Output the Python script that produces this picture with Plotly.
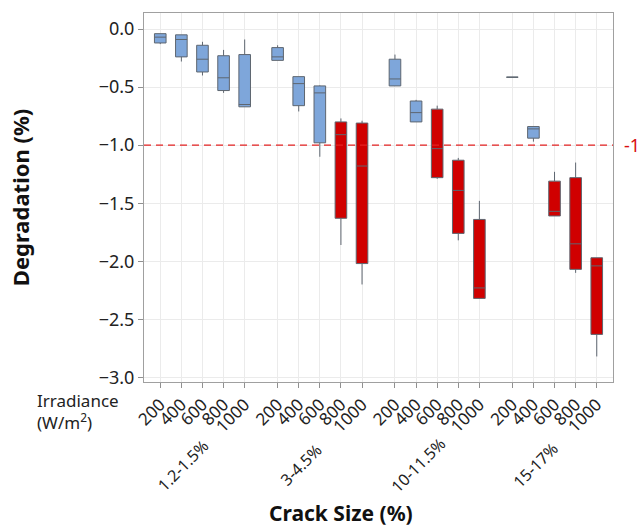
import plotly.graph_objects as go

crack_sizes = ["1.2-1.5%", "3-4.5%", "10-11.5%", "15-17%"]
irradiance = ["200", "400", "600", "800", "1000"]

# one value per box, crack size major, irradiance minor
q3 = [-0.04, -0.05, -0.14, -0.23, -0.22,
      -0.16, -0.41, -0.49, -0.80, -0.81,
      -0.26, -0.62, -0.69, -1.13, -1.64,
      -0.415, -0.84, -1.31, -1.28, -1.97]
median = [-0.07, -0.09, -0.26, -0.42, -0.65,
          -0.24, -0.47, -0.55, -0.91, -1.18,
          -0.43, -0.72, -1.03, -1.39, -2.23,
          -0.415, -0.86, -1.57, -1.85, -2.04]
q1 = [-0.12, -0.24, -0.37, -0.53, -0.67,
      -0.27, -0.66, -0.98, -1.63, -2.02,
      -0.49, -0.80, -1.28, -1.76, -2.32,
      -0.415, -0.94, -1.61, -2.07, -2.63]
upper = [-0.04, -0.05, -0.11, -0.18, -0.09,
         -0.14, -0.41, -0.485, -0.77, -0.79,
         -0.22, -0.61, -0.66, -1.11, -1.48,
         -0.415, -0.84, -1.23, -1.15, -1.97]
lower = [-0.13, -0.28, -0.40, -0.55, -0.67,
         -0.27, -0.71, -1.10, -1.86, -2.20,
         -0.49, -0.80, -1.29, -1.82, -2.32,
         -0.415, -0.97, -1.61, -2.10, -2.82]

THRESHOLD = -1.0
GROUP_STEP = 5.56
FONT = "Noto Sans"

xpos = [g * GROUP_STEP + i for g in range(len(crack_sizes)) for i in range(len(irradiance))]
ticktext = irradiance * len(crack_sizes)

fig = go.Figure()
for name, color, pick in [
    ("ok", "#7EA6DA", lambda v: v >= THRESHOLD),
    ("over", "#D00000", lambda v: v < THRESHOLD),
]:
    idx = [k for k in range(len(xpos)) if pick(q1[k])]
    fig.add_trace(go.Box(
        x=[xpos[k] for k in idx],
        q1=[q1[k] for k in idx],
        median=[median[k] for k in idx],
        q3=[q3[k] for k in idx],
        lowerfence=[lower[k] for k in idx],
        upperfence=[upper[k] for k in idx],
        width=0.55,
        whiskerwidth=0,
        fillcolor=color,
        line=dict(color="#5E6670", width=1),
        boxpoints=False,
        showlegend=False,
        hoverinfo="skip",
    ))

fig.add_hline(y=THRESHOLD, line=dict(color="#E42222", width=1.2, dash="7px,5px"))
fig.add_annotation(x=1.02, xref="paper", y=THRESHOLD, yref="y", text="-1",
                   showarrow=False, xanchor="left", yanchor="middle",
                   font=dict(size=18, color="#D81010", family=FONT))

for g, label in enumerate(crack_sizes):
    fig.add_annotation(x=g * GROUP_STEP + 2 - 0.9, xref="x", y=-0.225, yref="paper",
                       text=label, textangle=-45, showarrow=False,
                       xanchor="center", yanchor="middle",
                       font=dict(size=16, color="#222", family=FONT))

fig.add_annotation(x=-0.232, xref="paper", y=-0.014, yref="paper",
                   text="Irradiance<br>(W/m<sup>2</sup>)", align="left",
                   xanchor="left", yanchor="top", showarrow=False,
                   font=dict(size=17, color="#222", family=FONT))
fig.add_annotation(x=0.42, xref="paper", y=-0.355, yref="paper",
                   text="<b>Crack Size (%)</b>", showarrow=False,
                   xanchor="center", yanchor="middle",
                   font=dict(size=21, color="#111", family=FONT))

axis_common = dict(
    showline=True, linecolor="#A0A0A0", mirror=True,
    showgrid=True, gridcolor="#EBEBEB", gridwidth=1,
    ticks="outside", ticklen=5, tickcolor="#909090",
    zeroline=False,
)
fig.update_xaxes(
    range=[-0.77, 21.45], tickvals=xpos, ticktext=ticktext, tickangle=-45,
    tickfont=dict(size=17, color="#222", family=FONT), **axis_common,
)
fig.update_yaxes(
    range=[-3.04, 0.138], tickvals=[0, -0.5, -1, -1.5, -2, -2.5, -3],
    tickformat=".1f", tickfont=dict(size=18, color="#222", family=FONT),
    title=dict(text="<b>Degradation (%)</b>", standoff=62,
               font=dict(size=22, color="#111", family=FONT)),
    **axis_common,
)
fig.update_layout(
    width=637, height=525,
    margin=dict(l=144, r=24, t=13, b=143),
    paper_bgcolor="white", plot_bgcolor="white",
    font=dict(family=FONT),
)
fig.write_html("out.html", config={"displayModeBar": False},
               post_script="document.body.style.margin='0';")
